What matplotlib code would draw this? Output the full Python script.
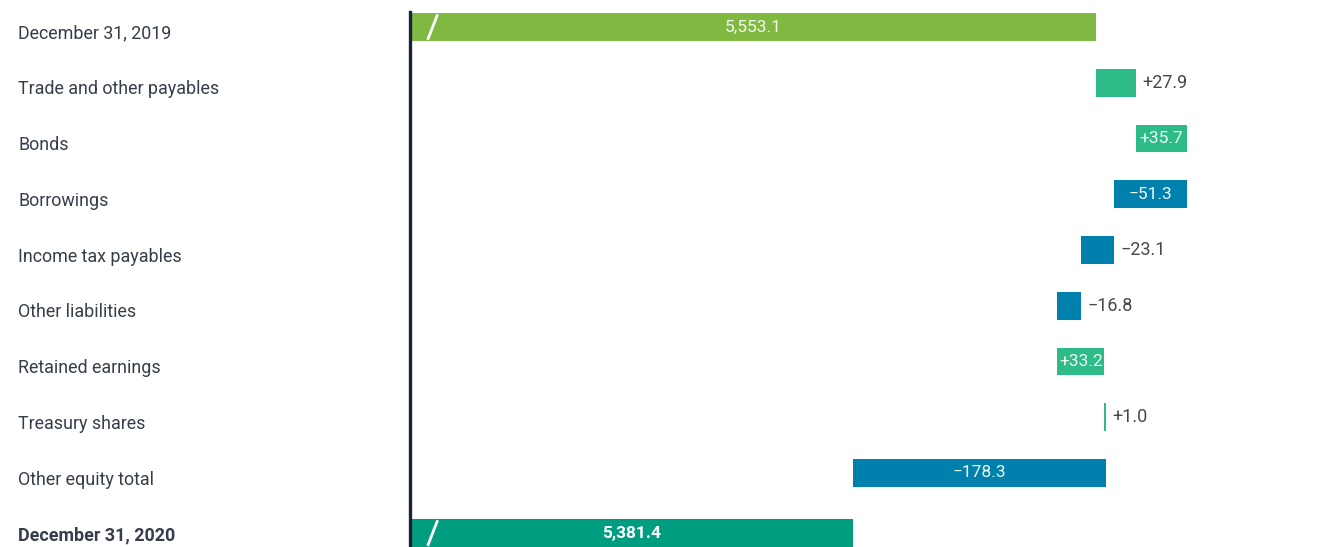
import numpy as np
import matplotlib.pyplot as plt
from matplotlib.transforms import blended_transform_factory

labels = ["December 31, 2019", "Trade and other payables", "Bonds", "Borrowings",
          "Income tax payables", "Other liabilities", "Retained earnings",
          "Treasury shares", "Other equity total", "December 31, 2020"]
start_total = 5553.1
changes = [27.9, 35.7, -51.3, -23.1, -16.8, 33.2, 1.0, -178.3]
end_total = 5381.4

c_start = "#80b941"
c_end = "#009d80"
c_pos = "#2dbb88"
c_neg = "#0080ad"
c_text = "#353d4a"

plt.rcParams['font.family'] = ['Roboto', 'DejaVu Sans']

fig = plt.figure(figsize=(13.44, 5.47), dpi=100)
ax = fig.add_axes([0.305, 0.0, 0.695, 0.978])
x0, x1 = 5069.5, 5727.5
ax.set_xlim(x0, x1)
ax.set_ylim(9.33, -0.27)

ypos = list(range(9)) + [9.08]
h = 0.5


def fmt(v, sign=False):
    s = f"{abs(v):,.1f}"
    if sign:
        s = ("+" if v >= 0 else "\u2212") + s
    return s


# start bar
ax.barh(ypos[0], start_total - x0, left=x0, height=h, color=c_start)
ax.text((x0 + start_total) / 2, ypos[0], fmt(start_total), color="#f4f8ee",
        ha="center", va="center", fontsize=12.5)

running = start_total
for i, v in enumerate(changes):
    y = ypos[i + 1]
    left = running if v >= 0 else running + v
    col = c_pos if v >= 0 else c_neg
    ax.barh(y, abs(v), left=left, height=h, color=col)
    if abs(v) >= 30:
        ax.text(left + abs(v) / 2, y, fmt(v, True), color="#eef8f4", ha="center",
                va="center", fontsize=12.5)
    else:
        ax.text(left + abs(v) + 4.5, y, fmt(v, True), color="#474747", ha="left",
                va="center", fontsize=13)
    running += v

# end bar
ax.barh(ypos[-1], end_total - x0, left=x0, height=h, color=c_end)
ax.text((x0 + end_total) / 2, ypos[-1], fmt(end_total), color="white",
        ha="center", va="center", fontsize=12.5, fontweight="bold")

# axis break marks
for y in (ypos[0], ypos[-1]):
    ax.plot([x0 + 12.5, x0 + 19.5], [y + h / 2 - 0.02, y - h / 2 + 0.02],
            color="white", lw=2, solid_capstyle="butt")

# category labels
trans = blended_transform_factory(fig.transFigure, ax.transData)
for i, (lab, y) in enumerate(zip(labels, ypos)):
    last = i == len(labels) - 1
    ax.text(0.0134, y + (0.04 if last else 0.12), lab, transform=trans,
            ha="left", va="center", fontsize=12.9, color=c_text,
            fontweight="bold" if last else "normal", clip_on=False)

for s in ["top", "right", "bottom"]:
    ax.spines[s].set_visible(False)
ax.spines["left"].set_color("#1a2233")
ax.spines["left"].set_linewidth(2.4)
ax.set_xticks([])
ax.set_yticks([])

fig.savefig("out.png", dpi=100)
